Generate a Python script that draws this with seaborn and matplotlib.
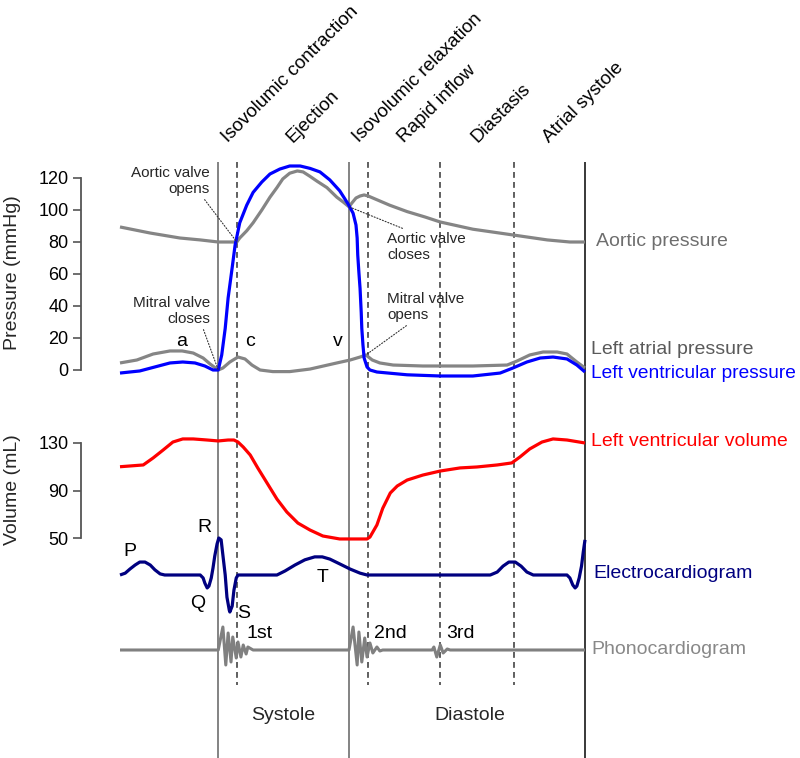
import numpy as np
import pandas as pd
import seaborn as sns
import matplotlib.pyplot as plt

W, H = 800, 758

# one cardiac cycle, time in ms
events_solid = [169, 394, 800]          # mitral closes, aortic closes, end of cycle
events_dashed = [201, 427, 551, 678]    # aortic opens, mitral opens, diastasis, atrial systole
phase_edges = [169, 201, 394, 427, 551, 678, 800]
phase_names = ["Isovolumic contraction", "Ejection", "Isovolumic relaxation",
               "Rapid inflow", "Diastasis", "Atrial systole"]

# pressures (mmHg)
aortic_t = [0, 52, 103, 138, 169, 201, 206, 218, 229, 244, 258, 270, 280, 292, 305, 315,
            327, 339, 356, 373, 384, 394, 399, 406, 413, 420, 427, 435, 464, 494, 525,
            551, 607, 676, 735, 774, 800]
aortic_p = [89.4, 85.6, 82.5, 81.3, 80, 80, 82.5, 87, 92, 100, 108, 114, 119.4, 123,
            124.4, 123.8, 121, 118, 114, 108, 105, 102, 104.4, 107.5, 108.75, 109.4,
            108.75, 107.5, 103, 99, 95.6, 92.5, 88, 84.4, 81.3, 80, 80]

lv_t = [0, 34, 60, 86, 108, 129, 146, 160, 169, 175, 181, 186, 193, 198, 206, 218, 229,
        244, 258, 275, 292, 310, 327, 344, 361, 378, 392, 401, 406, 408, 409, 411, 413,
        415, 416, 418, 420, 425, 430, 442, 494, 551, 607, 654, 676, 700, 723, 745, 769,
        786, 800]
lv_p = [-1.9, -0.6, 1.9, 4.4, 5, 4.4, 2.5, 0, 0, 9.4, 26, 45, 64, 78, 92, 103, 111,
        117.5, 122.5, 125.6, 127.5, 127.5, 126, 123.8, 118.8, 112, 104, 98, 90.6, 82.5,
        72, 61, 51, 36, 26, 15.6, 7.5, 1.9, 0, -1.25, -3, -3.75, -3.75, -1.9, 1.25, 5,
        7.5, 8.1, 6.9, 3.1, -1.25]

la_t = [0, 29, 57, 86, 107, 126, 143, 155, 169, 177, 189, 203, 215, 227, 241, 263, 292,
        327, 373, 396, 413, 423, 434, 447, 470, 521, 607, 666, 683, 705, 728, 752, 769,
        786, 800]
la_p = [4.4, 6.25, 10, 11.9, 11.9, 10.6, 7.5, 3.75, 0, 1.25, 5, 8.1, 6.9, 3.1, 0,
        -1.0, -1.0, 0.6, 4.4, 6.25, 8.1, 9.4, 6.25, 4.4, 3.1, 2.5, 2.5, 3.1, 5.6, 9.4,
        11.25, 11.25, 10, 5, 1.25]

# valve events: (time, pressure) where the leader lines point
valve_names = ["Aortic valve\nopens", "Mitral valve\ncloses",
               "Aortic valve\ncloses", "Mitral valve\nopens"]
valve_t = [201, 169, 394, 423]
valve_p = [80, 0, 102, 9.4]

# left ventricular volume (mL)
vol_t = [0, 40, 57, 74, 91, 108, 126, 150, 169, 186, 196, 203, 212, 224, 237, 253, 270,
         287, 306, 327, 349, 378, 425, 430, 442, 452, 465, 477, 494, 521, 551, 585, 614,
         649, 674, 688, 705, 726, 745, 769, 800]
vol_v = [110, 111.5, 117.4, 124, 130.8, 133.4, 133.4, 132.5, 131.7, 132.5, 132.5, 130.8,
         126.6, 119.9, 109, 96.3, 82.8, 71.9, 62.6, 56.7, 51.7, 49.2, 49.2, 50.8, 61, 75,
         87.9, 93.8, 98.8, 103, 106.4, 109, 109.8, 111.5, 113.2, 118.2, 125, 130.8,
         133.4, 132.5, 130]

# ECG (mV, approximate)
ecg_t = [0, 9, 17, 26, 34, 43, 52, 60, 69, 77, 138, 143, 146, 150, 153, 157, 160, 163,
         167, 170, 174, 177, 181, 184, 188, 189, 193, 196, 200, 203, 270, 284, 301, 318,
         335, 348, 361, 378, 396, 413, 425, 637, 649, 659, 669, 680, 690, 700, 711, 769,
         774, 779, 783, 786, 790, 794, 797, 800]
ecg_mv = [0, 0.05, 0.16, 0.27, 0.35, 0.35, 0.27, 0.14, 0.03, 0, 0, -0.08, -0.22, -0.35,
          -0.3, -0.08, 0.19, 0.51, 0.84, 1.0, 0.95, 0.54, 0, -0.6, -0.95, -1.0, -0.84,
          -0.41, -0.08, 0, 0, 0.11, 0.27, 0.41, 0.49, 0.49, 0.43, 0.3, 0.16, 0.05, 0, 0,
          0.08, 0.24, 0.35, 0.35, 0.24, 0.08, 0, 0, -0.08, -0.27, -0.35, -0.3, -0.08,
          0.24, 0.62, 0.95]

# phonocardiogram (arbitrary units)
pcg_t = [0, 169, 177, 182, 186, 191, 194, 200, 203, 208, 212, 217, 220, 229,
         394, 401, 408, 411, 416, 421, 425, 430, 435, 442, 447, 452,
         537, 540, 545, 551, 556, 563, 568, 800]
pcg_u = [0, 0, 0.92, -0.6, 0.68, -0.48, 0.52, -0.32, 0.32, -0.28, 0.2, -0.16, 0.12, 0,
         0, 0.92, -0.6, 0.72, -0.48, 0.48, -0.28, 0.28, -0.12, 0.12, -0.04, 0,
         0, 0.12, -0.28, 0.2, -0.12, 0.04, 0, 0]

pressure_ticks = [0, 20, 40, 60, 80, 100, 120]
volume_ticks = [50, 90, 130]

sns.set_theme(style="white")
plt.rcParams['font.family'] = ['Liberation Sans', 'DejaVu Sans']


def t_of_px(x):
    return (x - 120) * 800 / 465


XLIM = (t_of_px(0), t_of_px(W))
GRAY = '#858585'
SPINE = '#555555'


def band(top_px, bottom_px):
    ax = fig.add_axes([0, 1 - bottom_px / H, 1, (bottom_px - top_px) / H])
    ax.set_facecolor('none')
    for s in ['top', 'right', 'bottom', 'left']:
        ax.spines[s].set_visible(False)
    ax.set_xticks([])
    ax.set_yticks([])
    return ax


def style_y(ax, ticks, lo, hi):
    ax.spines['left'].set_visible(True)
    ax.spines['left'].set_position(('data', t_of_px(81)))
    ax.spines['left'].set_bounds(lo, hi)
    ax.spines['left'].set_color(SPINE)
    ax.spines['left'].set_linewidth(1.3)
    ax.set_yticks(ticks)
    ax.tick_params(axis='y', left=True, length=6, width=1.2, color=SPINE, pad=3,
                   labelsize=13, labelcolor='black', direction='out')


def line(ax, x, y, color, lw=2.3):
    sns.lineplot(x=x, y=y, ax=ax, color=color, lw=lw, sort=False, estimator=None,
                 solid_joinstyle='round', solid_capstyle='butt', clip_on=False)


def ftext(x, y, s, **kw):
    fig.text(x / W, 1 - y / H, s, **kw)


fig = plt.figure(figsize=(W / 100, H / 100), dpi=100)

# overlay in pixel rows for the event lines and phase labels
ax_o = fig.add_axes([0, 0, 1, 1])
ax_o.set_xlim(XLIM)
ax_o.set_ylim(H, 0)
ax_o.axis('off')
ax_o.vlines(events_solid, 162, H, colors=['#7a7a7a', '#7a7a7a', '#2a2a2a'], lw=1.3)
ax_o.vlines(events_dashed, 162, 685, colors='#444444', lw=1.2,
            linestyles=[(0, (3.5, 2.5))])
for i, name in enumerate(phase_names):
    mid = (phase_edges[i] + phase_edges[i + 1]) / 2
    ax_o.text(mid, 143, name, rotation=45, rotation_mode='anchor', ha='left',
              va='baseline', fontsize=13.5, color='black')
ax_o.text((phase_edges[0] + phase_edges[2]) / 2, 716, "Systole", ha='center',
          va='center', fontsize=14)
ax_o.text((phase_edges[2] + phase_edges[-1]) / 2 + 5, 716, "Diastole", ha='center',
          va='center', fontsize=14)

# pressure band: 0 -> 370 px, 120 -> 178 px
ax_p = band(162, 386)
line(ax_p, aortic_t, aortic_p, GRAY)
line(ax_p, la_t, la_p, GRAY)
line(ax_p, lv_t, lv_p, '#0000ff')
ax_p.set_xlim(XLIM)
ax_p.set_ylim(-10, 130)
style_y(ax_p, pressure_ticks, 0, 120)

text_pos = [(210, 181, 'right', (0.9, 0)), (210, 311, 'right', (0.9, 0)),
            (387, 247, 'left', (0.3, 1)), (387, 307, 'left', (0.31, 0))]
for name, tx, py, (xp, yp, ha, rp) in zip(valve_names, valve_t, valve_p, text_pos):
    ax_p.annotate(name, xy=(tx, py), xycoords='data', xytext=(xp, H - yp),
                  textcoords='figure pixels', ha=ha, va='center', fontsize=11,
                  linespacing=1.25, multialignment=ha,
                  arrowprops=dict(arrowstyle='-', color='#333333', lw=0.8,
                                  linestyle=':', relpos=rp, shrinkA=0, shrinkB=0))

# volume band: 50 -> 538 px, 130 -> 443 px
ax_v = band(431.1, 549.9)
line(ax_v, vol_t, vol_v, '#ff0000')
ax_v.set_xlim(XLIM)
ax_v.set_ylim(40, 140)
style_y(ax_v, volume_ticks, 50, 130)

# ECG band: baseline 575 px, 1 mV = 37 px
ax_e = band(519.5, 630.5)
line(ax_e, ecg_t, ecg_mv, '#000080')
ax_e.set_xlim(XLIM)
ax_e.set_ylim(-1.5, 1.5)

# phono band: baseline 650 px
ax_s = band(620, 680)
line(ax_s, pcg_t, pcg_u, '#808080', lw=2.2)
ax_s.set_xlim(XLIM)
ax_s.set_ylim(-1.2, 1.2)

# axis titles
ftext(13, 273, "Pressure (mmHg)", rotation=90, fontsize=14, ha='center', va='center')
ftext(13, 490, "Volume (mL)", rotation=90, fontsize=14, ha='center', va='center')

# curve names on the right
ftext(596, 241, "Aortic pressure", color='#6e6e6e', fontsize=14, va='center')
ftext(591, 350, "Left atrial pressure", color='#5a5a5a', fontsize=14, va='center')
ftext(591, 374, "Left ventricular pressure", color='#0000ff', fontsize=13.8, va='center')
ftext(591, 442, "Left ventricular volume", color='#ff0000', fontsize=14, va='center')
ftext(593, 573, "Electrocardiogram", color='#000080', fontsize=14, va='center')
ftext(591, 650, "Phonocardiogram", color='#888888', fontsize=14, va='center')

# wave letters
for s, x, y in [("a", 182, 341), ("c", 250, 341), ("v", 338, 341),
                ("P", 130, 551), ("R", 204, 527), ("Q", 198, 603), ("S", 244, 614),
                ("T", 323, 578), ("1st", 260, 634), ("2nd", 390, 634), ("3rd", 460, 634)]:
    ftext(x, y, s, fontsize=14, ha='center', va='center', color='black')

fig.savefig("out.png", dpi=100)
